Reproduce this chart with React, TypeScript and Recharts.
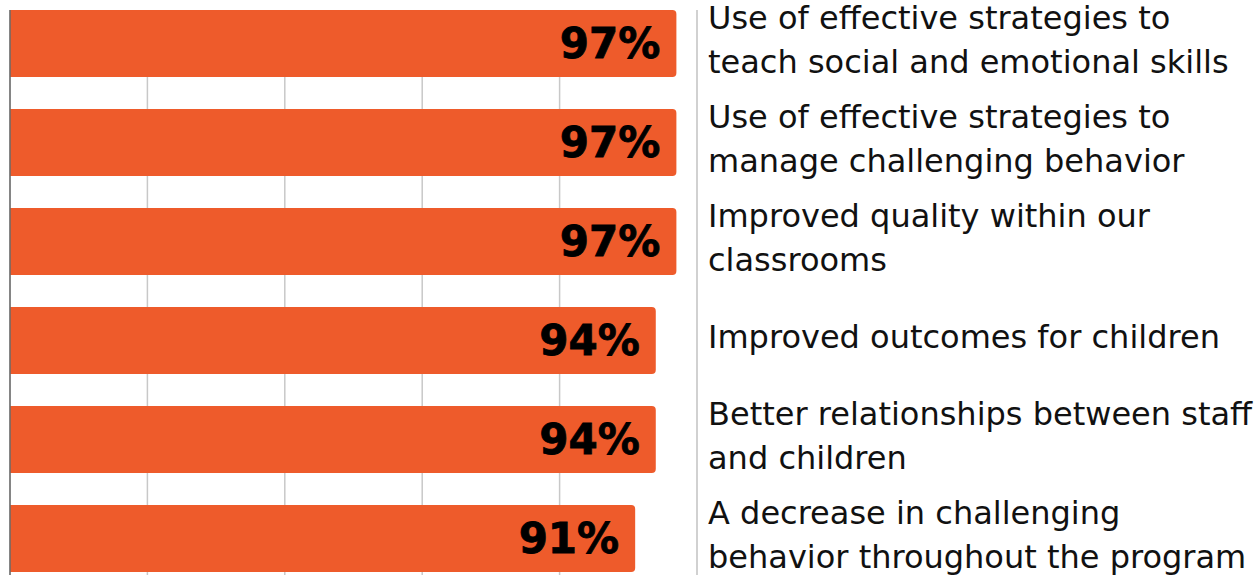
import React from 'react'
import { BarChart, Bar, XAxis, YAxis, CartesianGrid, ReferenceLine, LabelList } from 'recharts'

const categories = [
  'Use of effective strategies to\nteach social and emotional skills',
  'Use of effective strategies to\nmanage challenging behavior',
  'Improved quality within our\nclassrooms',
  'Improved outcomes for children',
  'Better relationships between staff\nand children',
  'A decrease in challenging\nbehavior throughout the program',
]
const values = [97, 97, 97, 94, 94, 91]
const xTicks = [0, 20, 40, 60, 80, 100]

const data = categories.map((name, i) => ({ name, value: values[i] }))

const ORANGE = '#EE5B2B'
const FONT = '"DejaVu Sans", sans-serif'

function LabelTick(props: any) {
  const { x, y, payload } = props
  const lines = String(payload.value).split('\n')
  const lh = 44
  const first = y - ((lines.length - 1) * lh) / 2 + 11 - 4
  return (
    <text x={x + 3} y={first} fill="#111" fontSize={32} fontFamily={FONT} textAnchor="start">
      {lines.map((l, i) => (
        <tspan key={i} x={x + 3} y={first + i * lh}>{l}</tspan>
      ))}
    </text>
  )
}

export default function App() {
  return (
    <div style={{ position: 'absolute', left: 0, top: 0, width: 1260, height: 575, overflow: 'hidden', background: '#fff' }}>
      <BarChart width={1260} height={600} data={data} layout="vertical" margin={{ top: 10, right: 0, left: 10, bottom: 12 }}>
        <CartesianGrid horizontal={false} stroke="#c8c8c8" strokeWidth={1.5} />
        <XAxis type="number" domain={[0, 100]} ticks={xTicks} hide />
        <YAxis type="category" dataKey="name" orientation="right" width={563} padding={{ top: -16, bottom: 0 }}
          axisLine={{ stroke: '#cfcfcf', strokeWidth: 1.5 }} tickLine={false} tick={<LabelTick />} interval={0} />
        <ReferenceLine x={0} stroke="#6a6a6a" strokeWidth={1.5} />
        <Bar dataKey="value" fill={ORANGE} barSize={67} radius={[0, 4, 4, 0]} isAnimationActive={false}>
          <LabelList dataKey="value" position="insideRight" offset={16} formatter={(v: any) => `${v}%`}
            fill="#000" stroke="#000" strokeWidth={0.8} fontSize={42} fontWeight="bold" fontFamily={FONT} />
        </Bar>
      </BarChart>
    </div>
  )
}
